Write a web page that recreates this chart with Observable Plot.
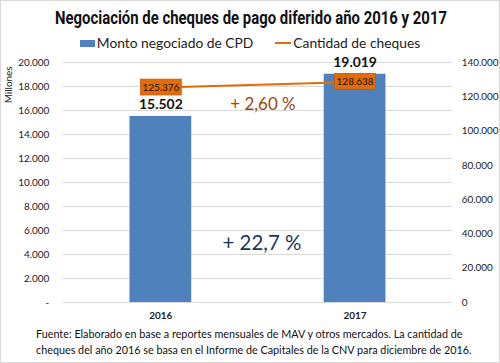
<!DOCTYPE html>
<html><head><meta charset="utf-8">
<script src="https://cdn.jsdelivr.net/npm/d3@7"></script>
<script src="https://cdn.jsdelivr.net/npm/@observablehq/plot@0.6"></script>
<style>
body{margin:0;background:#fff;}
#wrap{position:relative;width:500px;height:363px;box-sizing:border-box;border:1px solid #d9d9d9;overflow:hidden;font-family:Lato,"Open Sans",sans-serif;}
#title{position:absolute;top:5px;left:0;width:100%;text-align:center;white-space:nowrap;}
#title span{display:inline-block;font-family:Roboto,"Liberation Sans",sans-serif;font-weight:bold;font-size:19px;color:#111;transform-origin:center;}
#legend{position:absolute;top:33px;left:0;width:100%;display:flex;justify-content:center;gap:22px;font-size:13.8px;color:#222;white-space:nowrap;}
#legend span.sw{display:inline-block;vertical-align:middle;margin-right:2px;}
#chart{position:absolute;top:52px;left:0;}
#caption{position:absolute;top:325px;left:35px;font-size:10.8px;line-height:16px;color:#111;white-space:nowrap;}
</style></head>
<body><div id="wrap">
<div id="title"><span id="tt">Negociación de cheques de pago diferido año 2016 y 2017</span></div>
<div id="legend">
 <div><span class="sw" style="width:15px;height:7px;background:#4f81bd;margin-top:-3px"></span>Monto negociado de CPD</div>
 <div><span class="sw" style="width:16px;height:2px;background:#e36c09;margin-top:-3px"></span>Cantidad de cheques</div>
</div>
<div id="chart"></div>
<div id="caption">Fuente: Elaborado en base a reportes mensuales de MAV y otros mercados. La cantidad de<br>cheques del año 2016 se basa en el Informe de Capitales de la CNV para diciembre de 2016.</div>
</div>
<script>
const years = ["2016", "2017"];
const monto = [15502, 19019];          // millones
const cheques = [125376, 128638];      // cantidad
const leftTicks = [0, 2000, 4000, 6000, 8000, 10000, 12000, 14000, 16000, 18000, 20000];
const rightTicks = [0, 20000, 40000, 60000, 80000, 100000, 120000, 140000];
const variacionCheques = "+ 2,60 %";
const variacionMonto = "+ 22,7 %";

const ratio = 140000 / 20000; // right axis max / left axis max
const fmt = v => v === 0 ? "-" : d3.format(",.0f")(v).replace(/,/g, ".");
const fmtR = v => d3.format(",.0f")(v).replace(/,/g, ".");

const bars = years.map((y, i) => ({year: y, v: monto[i]}));
const line = years.map((y, i) => ({year: y, c: cheques[i], s: cheques[i] / ratio}));
const boxH = 660;

const plot = Plot.plot({
  width: 500, height: 272,
  marginTop: 9, marginBottom: 22, marginLeft: 62, marginRight: 47,
  style: {fontFamily: "Lato, 'Open Sans', sans-serif", fontSize: "10px", color: "#222", background: "transparent"},
  x: {type: "band", domain: years, paddingInner: 0.683, paddingOuter: 0.342, label: null},
  y: {domain: [0, 20000], label: null},
  marks: [
    Plot.gridY(leftTicks, {stroke: "#d9d9d9", strokeOpacity: 1}),
    Plot.axisY(leftTicks, {anchor: "left", tickSize: 0, tickPadding: 14, tickFormat: fmt, label: null, fontSize: 10}),
    Plot.axisY(rightTicks.map(v => v / ratio), {anchor: "right", tickSize: 0, tickPadding: 9, tickFormat: d => fmtR(d * ratio), label: null, fontSize: 10}),
    Plot.axisX({tickSize: 0, tickPadding: 9, label: null, fontWeight: "bold", fontSize: 10}),
    Plot.barY(bars, {x: "year", y: "v", fill: "#4f81bd"}),
    Plot.text(bars, {x: "year", y: "v", text: d => fmt(d.v), dy: -12, fontWeight: "bold", fontSize: 14, fill: "#111"}),
    Plot.line(line, {x: "year", y: "s", stroke: "#e36c09", strokeWidth: 2}),
    Plot.barY(line, {x: "year", y1: d => d.s - boxH, y2: d => d.s + boxH, insetLeft: 11, insetRight: 10, fill: "#e36c09", stroke: "#c55a11", strokeWidth: 0.8}),
    Plot.text(line, {x: "year", y: "s", text: d => fmtR(d.c), fontSize: 10, fill: "#111"}),
    Plot.text([variacionCheques], {frameAnchor: "middle", dx: 5, dy: -78, fill: "#984807", fontSize: 17}),
    Plot.text([variacionMonto], {frameAnchor: "middle", dx: 4, dy: 61, fill: "#17375e", fontSize: 20.5}),
    Plot.text(["Millones"], {frameAnchor: "top-left", textAnchor: "start", lineAnchor: "top", rotate: -90, dx: -59, dy: 41, fontSize: 10, fill: "#222"})
  ]
});
document.getElementById("chart").appendChild(plot);

// condense the title to the reference's width
const tt = document.getElementById("tt");
const w = tt.getBoundingClientRect().width;
tt.style.transform = `scaleX(${392 / w})`;
</script>
</body></html>
